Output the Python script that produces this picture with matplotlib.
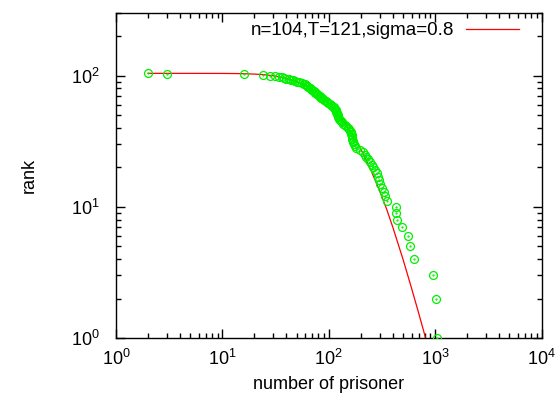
import matplotlib
matplotlib.use('Agg')
import matplotlib.pyplot as plt
from matplotlib.ticker import LogLocator, NullFormatter, LogFormatterMathtext

plt.rcParams['font.family'] = ['Liberation Sans', 'DejaVu Sans']
plt.rcParams['mathtext.fontset'] = 'custom'
plt.rcParams['mathtext.rm'] = 'Liberation Sans'

# observed data: number of prisoners for rank 104 .. 1
ranks = list(range(104, 0, -1))
prisoners = [2, 3, 16, 24, 28, 31, 34, 36, 38, 40,
             42, 44, 46, 48, 50, 53, 56, 58, 60, 61,
             62, 63, 64, 66, 67, 68, 69, 70, 72, 74,
             75, 77, 78, 80, 82, 83, 85, 87, 89, 91,
             94, 97, 99, 102, 105, 108, 111, 113, 115, 116,
             117, 118, 119, 120, 121, 122, 123, 124, 127, 130,
             133, 137, 141, 146, 151, 155, 158, 161, 163, 165,
             166, 167, 168, 170, 173, 177, 182, 195, 210, 218,
             226, 235, 244, 254, 262, 272, 282, 290, 297, 303,
             316, 328, 338, 350, 425, 433, 440, 491, 558, 576,
             636, 947, 1017, 1033]

# fitted curve
fit_x = [2, 5, 10, 15, 20, 25, 30, 40, 50, 60, 70, 80, 100, 120, 150,
         200, 250, 300, 350, 400, 500, 600, 700, 800, 850]
fit_rank = [104, 104, 103.9, 103.5, 102.7, 101.5, 99.8, 95.3, 90.0, 84.2,
            78.3, 72.6, 61.8, 52.4, 41.0, 27.6, 18.9, 13.3, 9.6, 7.0,
            3.96, 2.4, 1.55, 1.05, 0.85]
legend_label = 'n=104,T=121,sigma=0.8'

fig = plt.figure(figsize=(5.59, 3.95), dpi=100)
ax = fig.add_axes([116/559, 1-338/395, (541.5-116)/559, (338-13)/395])

ax.plot(fit_x, fit_rank, color='#ff0000', lw=0.9, label=legend_label, zorder=2)
ax.plot(prisoners, ranks, ls='none', marker='o', mfc='none', mec='#00f000',
        ms=5.7, mew=0.9, zorder=3)
ax.plot(prisoners, ranks, ls='none', marker='.', color='#00f000', ms=1.2, zorder=3)

ax.set_xscale('log')
ax.set_yscale('log')
ax.set_xlim(1, 1e4)
ax.set_ylim(1, 300)

for a in (ax.xaxis, ax.yaxis):
    a.set_major_locator(LogLocator(base=10, numticks=10))
    a.set_minor_locator(LogLocator(base=10, subs=range(2, 10), numticks=10))
    a.set_minor_formatter(NullFormatter())
    a.set_major_formatter(LogFormatterMathtext())

ax.tick_params(which='both', direction='in', top=True, right=True, width=1.0)
ax.tick_params(which='major', length=6.5, labelsize=13)
ax.tick_params(which='minor', length=3.5)
ax.tick_params(axis='x', which='major', pad=8)
ax.tick_params(axis='y', which='major', pad=12)
for s in ax.spines.values():
    s.set_linewidth(1.0)

ax.set_xlabel('number of prisoner', fontsize=13, labelpad=5)
ax.set_ylabel('rank', fontsize=13, labelpad=24)

leg = ax.legend(loc='upper right', bbox_to_anchor=(0.947, 0.972), frameon=False,
                fontsize=13.5, markerfirst=False, handlelength=2.8,
                handletextpad=0.65, borderaxespad=0, borderpad=0)

fig.savefig('out.png', dpi=100)
